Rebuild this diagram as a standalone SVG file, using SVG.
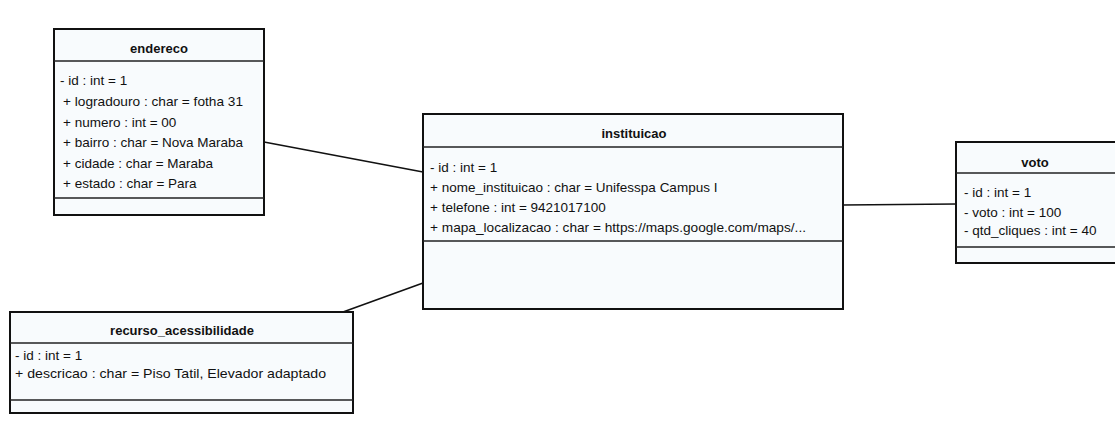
<svg xmlns="http://www.w3.org/2000/svg" width="1115" height="434" viewBox="0 0 1115 434">
  <style>
    .box { fill: #f8fbfd; stroke: #111; stroke-width: 2; }
    .div { stroke: #222; stroke-width: 1.5; fill: none; }
    .title { font-family: "Liberation Sans", Arial, sans-serif; font-size: 13px; font-weight: bold; fill: #111; text-anchor: middle; }
    .attr { font-family: "Liberation Sans", Arial, sans-serif; font-size: 13.5px; fill: #111; }
    .conn { stroke: #111; stroke-width: 1.6; fill: none; }
  </style>
  <rect width="1115" height="434" fill="#ffffff"/>

  <!-- associations -->
  <g id="connectors">
    <line class="conn" x1="264" y1="142" x2="423" y2="172"/>
    <line class="conn" x1="843" y1="205" x2="956" y2="204"/>
    <line class="conn" x1="343" y1="312" x2="423" y2="283"/>
  </g>

  <g id="endereco">
    <rect class="box" x="54" y="29" width="210" height="186"/>
    <line class="div" x1="54" y1="61" x2="264" y2="61"/>
    <line class="div" x1="54" y1="198" x2="264" y2="198"/>
    <text class="title" x="159" y="53">endereco</text>
    <text class="attr" x="60" y="85">- id : int = 1</text>
    <text class="attr" x="63" y="106" textLength="180" lengthAdjust="spacingAndGlyphs">+ logradouro : char = fotha 31</text>
    <text class="attr" x="63" y="127">+ numero : int = 00</text>
    <text class="attr" x="63" y="147">+ bairro : char = Nova Maraba</text>
    <text class="attr" x="63" y="168">+ cidade : char = Maraba</text>
    <text class="attr" x="63" y="188">+ estado : char = Para</text>
  </g>

  <g id="instituicao">
    <rect class="box" x="423" y="114" width="420" height="195"/>
    <line class="div" x1="423" y1="147" x2="843" y2="147"/>
    <line class="div" x1="423" y1="241" x2="843" y2="241"/>
    <text class="title" x="634" y="138">instituicao</text>
    <text class="attr" x="430" y="172">- id : int = 1</text>
    <text class="attr" x="430" y="192">+ nome_instituicao : char = Unifesspa Campus I</text>
    <text class="attr" x="430" y="212">+ telefone : int = 9421017100</text>
    <text class="attr" x="430" y="232" textLength="376" lengthAdjust="spacingAndGlyphs">+ mapa_localizacao : char = https://maps.google.com/maps/...</text>
  </g>

  <g id="voto">
    <rect class="box" x="956" y="142" width="170" height="121"/>
    <line class="div" x1="956" y1="173" x2="1115" y2="173"/>
    <line class="div" x1="956" y1="247" x2="1115" y2="247"/>
    <text class="title" x="1035" y="167">voto</text>
    <text class="attr" x="964" y="197">- id : int = 1</text>
    <text class="attr" x="964" y="217">- voto : int = 100</text>
    <text class="attr" x="964" y="235">- qtd_cliques : int = 40</text>
  </g>

  <g id="recurso_acessibilidade">
    <rect class="box" x="10" y="312" width="343" height="101"/>
    <line class="div" x1="10" y1="343" x2="353" y2="343"/>
    <line class="div" x1="10" y1="400" x2="353" y2="400"/>
    <text class="title" x="182" y="335">recurso_acessibilidade</text>
    <text class="attr" x="15" y="360">- id : int = 1</text>
    <text class="attr" x="15" y="378" textLength="311" lengthAdjust="spacingAndGlyphs">+ descricao : char = Piso Tatil, Elevador adaptado</text>
  </g>
</svg>
